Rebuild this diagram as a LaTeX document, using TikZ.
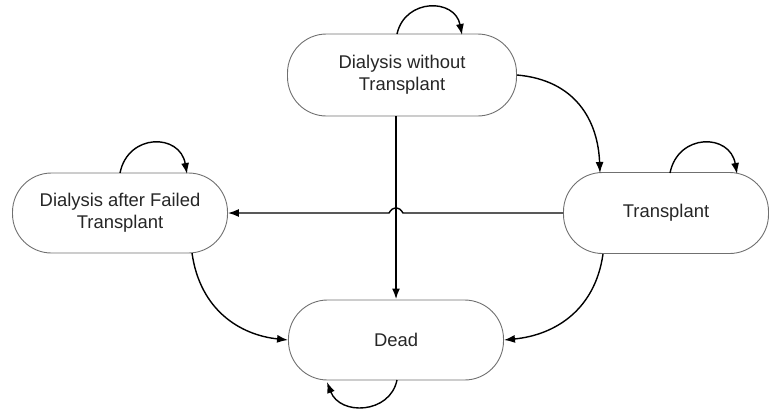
\documentclass[tikz,border=0pt]{standalone}
\usepackage{fontspec}
\setmainfont{Liberation Sans}
\usetikzlibrary{arrows.meta}
\definecolor{boxline}{HTML}{707070}
\definecolor{labeltext}{HTML}{262626}
\tikzset{
  state/.style={draw=boxline, line width=0.9pt, rounded corners=39pt, fill=white,
    align=center, text=labeltext, font=\fontsize{18.4}{22}\selectfont, inner sep=0pt},
  flow/.style={draw=black, line width=1.4pt, -{Latex[length=11pt,width=8pt]}},
  mainflow/.style={flow, line width=2pt},
}
\begin{document}
\begin{tikzpicture}[x=1pt,y=-1pt]
  \useasboundingbox (0,0) rectangle (770,408);

  % states
  \node[state, minimum width=229pt, minimum height=82pt] (dwt) at (402,75)
    {Dialysis without\\Transplant};
  \node[state, minimum width=215pt, minimum height=80pt] (daft) at (120,213)
    {Dialysis after Failed\\Transplant};
  \node[state, minimum width=205pt, minimum height=81pt] (tx) at (666,213)
    {Transplant};
  \node[state, minimum width=215pt, minimum height=80pt] (dead) at (396,340)
    {Dead};

  % helper points
  \coordinate (dwtbot) at (dwt.south -| dead.north);
  \coordinate (hopR) at (403,213);
  \coordinate (hopL) at (389,213);
  \coordinate (txin) at (600,173);

  % transitions between states
  \draw[mainflow] (dwtbot) -- (dead.north);
  \draw[flow] (tx.west) -- (hopR) .. controls (399,206) and (393,206) .. (hopL) -- (daft.east);
  \draw[flow] (dwt.east) .. controls (575,80) and (598,120) .. (txin);
  \draw[flow] (192,253) .. controls (200,310) and (240,335) .. (dead.west);
  \draw[flow] (603,254) .. controls (595,310) and (555,335) .. (dead.east);

  % staying in the same state
  \draw[flow] (397,34) .. controls (405,-2) and (455,-2) .. (462,35);
  \draw[flow] (120,173) .. controls (128,133) and (180,133) .. (187,174);
  \draw[flow] (670,173) .. controls (678,133) and (730,133) .. (737,174);
  \draw[flow] (397,380) .. controls (390,414) and (340,416) .. (327,382);
\end{tikzpicture}
\end{document}
